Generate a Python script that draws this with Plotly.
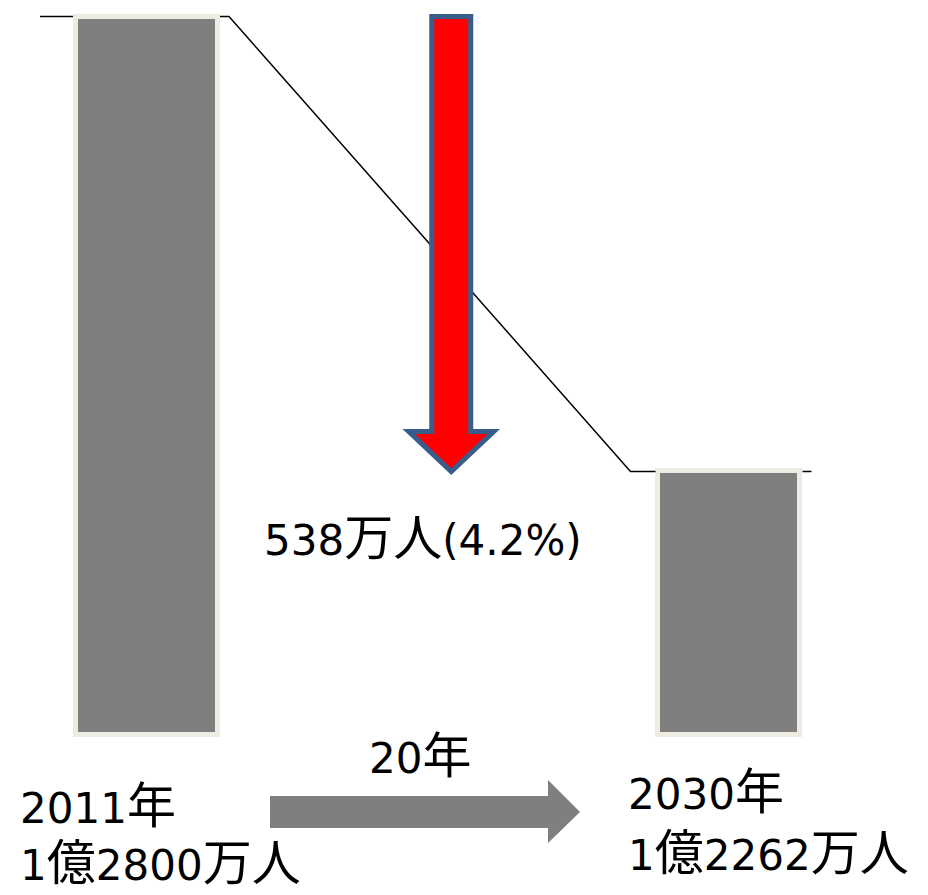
import plotly.graph_objects as go

# Population of Japan (units: 万人)
years = ["2011年", "2030年"]
population = [12800, 12262]
population_labels = ["1億2800万人", "1億2262万人"]
decline_label = "538万人(4.2%)"
span_label = "20年"
BASE = 11950  # truncated floor of the bars

W, H = 928, 895
PX_X = 582.5          # pixels per category step
PX_Y = 0.8457         # pixels per 万人
x_lo = -146.5 / PX_X
x_hi = x_lo + W / PX_X
y_hi = population[0] + 16.5 / PX_Y
y_lo = y_hi - H / PX_Y

BAR_GRAY = "#7F7F7F"
BAR_EDGE = "#EEECE1"
FONT = "DejaVu Sans, Noto Sans CJK JP"
LATIN_SIZE = 42
CJK_SIZE = 49

bar_w = 142 / PX_X
xs = list(range(len(population)))

fig = go.Figure()

# connector line between the bar tops
half = bar_w / 2 + 2.5 / PX_X
p0, p1 = population
cx = [xs[0] - half - 33 / PX_X, xs[0] - half, None,
      xs[0] + half, xs[0] + half + 9 / PX_X, xs[1] - half - 25 / PX_X, xs[1] - half, None,
      xs[1] + half, xs[1] + half + 9 / PX_X]
cy = [p0, p0, None, p0, p0, p1, p1, None, p1, p1]
fig.add_trace(go.Scatter(x=cx, y=cy, mode="lines",
                         line=dict(color="black", width=1.5),
                         hoverinfo="skip", showlegend=False))

fig.add_trace(go.Bar(
    x=xs, y=[p - BASE for p in population], base=BASE, width=bar_w,
    marker=dict(color=BAR_GRAY, line=dict(color=BAR_EDGE, width=5)),
    hovertext=[f"{y}: {l}" for y, l in zip(years, population_labels)],
    hoverinfo="text", showlegend=False,
))

# red downward arrow spanning the decline
xc = 0.5 + 13.5 / PX_X
sh = 19.5 / PX_X
hh = 42.5 / PX_X
head_len = 40 / PX_Y
top, tip = population[0], population[1]
hs = tip + head_len
red_path = (f"M {xc - sh},{top} L {xc + sh},{top} L {xc + sh},{hs} L {xc + hh},{hs} "
            f"L {xc},{tip} L {xc - hh},{hs} L {xc - sh},{hs} Z")
fig.add_shape(type="path", path=red_path, xref="x", yref="y",
              fillcolor="#FF0000", line=dict(color="#385D8A", width=5))

# gray arrow for the time span (paper coordinates)
def px(x):
    return x / W

def py(y):
    return 1 - y / H

gray_path = (f"M {px(270)},{py(796)} L {px(548)},{py(796)} L {px(548)},{py(780)} "
             f"L {px(580)},{py(812)} L {px(548)},{py(843)} L {px(548)},{py(828)} "
             f"L {px(270)},{py(828)} Z")
fig.add_shape(type="path", path=gray_path, xref="paper", yref="paper",
              fillcolor=BAR_GRAY, line=dict(width=0))


def styled(text):
    """Set kanji a little larger than the Latin digits."""
    out = []
    for ch in text:
        if ord(ch) > 0x2E80:
            out.append(f'<span style="font-size:{CJK_SIZE}px">{ch}</span>')
        else:
            out.append(ch)
    return "".join(out)


def label(text, x, y, anchor="left"):
    fig.add_annotation(text=styled(text), x=px(x), y=py(y), xref="paper", yref="paper",
                       xanchor=anchor, yanchor="middle", showarrow=False,
                       font=dict(family=FONT, size=LATIN_SIZE, color="black"))


label(decline_label, 423, 538, anchor="center")
label(span_label, 420, 756, anchor="center")
label(years[0], 18, 806)
label(population_labels[0], 18, 863)
label(years[1], 626, 792)
label(population_labels[1], 626, 853)

fig.update_layout(
    width=W, height=H,
    margin=dict(l=0, r=0, t=0, b=0),
    paper_bgcolor="white", plot_bgcolor="white",
    xaxis=dict(range=[x_lo, x_hi], visible=False, fixedrange=True),
    yaxis=dict(range=[y_lo, y_hi], visible=False, fixedrange=True),
    bargap=0,
)

fig.write_html("out.html")
